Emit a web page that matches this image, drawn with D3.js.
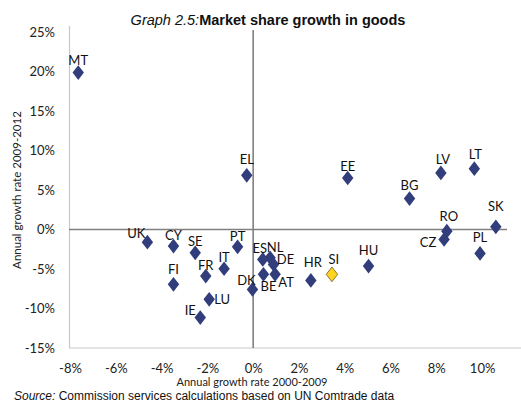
<!DOCTYPE html>
<html>
<head>
<meta charset="utf-8">
<script src="https://cdn.jsdelivr.net/npm/d3@7"></script>
<style>
  html, body { margin: 0; padding: 0; background: #fff; }
  svg { display: block; }
</style>
</head>
<body>
<svg id="chart" width="521" height="405"></svg>
<script>
// ---- data ----
const countries = ["MT","UK","CY","SE","FI","FR","IT","LU","IE","PT","EL","EE","ES","NL","DE","BE","AT","DK","HR","SI","HU","BG","LV","LT","SK","RO","CZ","PL"];
const growth2000_2009 = [-7.64,-4.62,-3.48,-2.53,-3.48,-2.07,-1.27,-1.92,-2.31,-0.68,-0.28,4.13,0.42,0.74,0.89,0.45,0.96,-0.03,2.52,3.44,5.04,6.83,8.20,9.66,10.60,8.46,8.34,9.91];
const growth2009_2012 = [19.86,-1.60,-2.10,-2.95,-6.94,-5.90,-4.97,-8.84,-11.15,-2.19,6.86,6.52,-3.79,-3.58,-4.42,-5.68,-5.68,-7.58,-6.44,-5.68,-4.63,3.91,7.16,7.70,0.34,-0.21,-1.26,-3.03];
const highlighted = ["SI"];
const xTicks = [-8,-6,-4,-2,0,2,4,6,8,10];
const yTicks = [-15,-10,-5,0,5,10,15,20,25];
// label placement (dx, dy relative to the marker)
const labelOffsets = {
  MT:[0,-13], UK:[-11,-9], CY:[0,-11], SE:[0,-12], FI:[0,-15], FR:[0,-11], IT:[0,-12],
  LU:[13,0], IE:[-10,-8], PT:[0,-11], EL:[0,-16], EE:[0,-12], ES:[-3,-11], NL:[5,-11],
  DE:[12,-5], BE:[5,12], AT:[11,8], DK:[-6,-9], HR:[2,-18], SI:[2,-15], HU:[0,-16.5],
  BG:[0,-14], LV:[2,-14], LT:[1,-15], SK:[0,-20.5], RO:[2,-15.5], CZ:[-16,3], PL:[0,-16.5]
};

const points = countries.map((c,i)=>({c, x:growth2000_2009[i], y:growth2009_2012[i]}));

const svg = d3.select("#chart");
const x = d3.scaleLinear().domain([-8, 11]).range([70, 505]);
const y = d3.scaleLinear().domain([-15, 25]).range([348, 32]);
const tickFont = "Lato, 'Open Sans', sans-serif";

// plot-area edges (light)
svg.append("line").attr("x1",69.5).attr("x2",69.5).attr("y1",26).attr("y2",348)
  .attr("stroke","#c8c8c8").attr("stroke-width",1.2);
svg.append("line").attr("x1",69).attr("x2",521).attr("y1",348).attr("y2",348)
  .attr("stroke","#c8c8c8").attr("stroke-width",1.2);

// zero axes
svg.append("line").attr("x1",x(0)).attr("x2",x(0)).attr("y1",30).attr("y2",348)
  .attr("stroke","#808080").attr("stroke-width",1.6);
svg.append("line").attr("x1",69).attr("x2",507).attr("y1",y(0)).attr("y2",y(0))
  .attr("stroke","#808080").attr("stroke-width",1.6);

// axes tick labels
const fmt = d => String(d) + "%";
const yAxis = svg.append("g").attr("transform","translate(58,0)")
  .call(d3.axisLeft(y).tickValues(yTicks).tickFormat(fmt).tickSize(0).tickPadding(3));
const xAxis = svg.append("g").attr("transform","translate(0,360)")
  .call(d3.axisBottom(x).tickValues(xTicks).tickFormat(fmt).tickSize(0).tickPadding(4));
[yAxis, xAxis].forEach(a => {
  a.select(".domain").remove();
  a.selectAll("text").attr("font-family", tickFont).attr("font-size", 13).attr("fill","#222");
});

// points
const diamond = d3.symbol().type(d3.symbolDiamond).size(62);
svg.append("g").selectAll("path").data(points).join("path")
  .attr("d", diamond)
  .attr("transform", d => `translate(${x(d.x)},${y(d.y)}) scale(1.35,1)`)
  .attr("fill", d => highlighted.includes(d.c) ? "#FFD320" : "#323E7C")
  .attr("stroke", d => highlighted.includes(d.c) ? "#6b5b20" : "none")
  .attr("stroke-width", 0.7);

// labels
svg.append("g").selectAll("text").data(points).join("text")
  .attr("x", d => x(d.x) + labelOffsets[d.c][0])
  .attr("y", d => y(d.y) + labelOffsets[d.c][1])
  .attr("text-anchor","middle")
  .attr("dominant-baseline","central")
  .attr("font-family", tickFont).attr("font-size", 13).attr("fill","#111")
  .text(d => d.c);

// axis titles
svg.append("text").attr("x", 252).attr("y", 386).attr("text-anchor","middle")
  .attr("font-family", tickFont).attr("font-size", 11).attr("fill","#222")
  .text("Annual growth rate 2000-2009");
svg.append("text").attr("transform","translate(21,190) rotate(-90)").attr("text-anchor","middle")
  .attr("font-family", tickFont).attr("font-size", 11.5).attr("fill","#222")
  .text("Annual growth rate 2009-2012");

// title
const title = svg.append("text").attr("x", 268).attr("y", 25).attr("text-anchor","middle")
  .attr("font-family","'Liberation Sans', Arial, sans-serif").attr("font-size", 14.5).attr("fill","#111");
title.append("tspan").attr("font-style","italic").text("Graph 2.5:");
title.append("tspan").attr("font-weight","bold").text("Market share growth in goods");

// source
const src = svg.append("text").attr("x", 14).attr("y", 400)
  .attr("font-family","'Liberation Sans', Arial, sans-serif").attr("font-size", 12).attr("fill","#111");
src.append("tspan").attr("font-style","italic").text("Source:");
src.append("tspan").text(" Commission services calculations based on UN Comtrade data");
</script>
</body>
</html>
